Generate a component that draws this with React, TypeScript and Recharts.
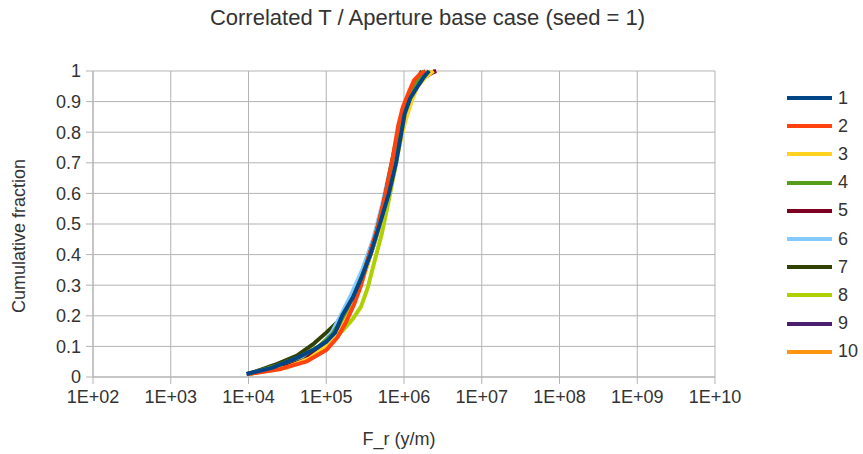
import React from "react";
import { LineChart, Line, XAxis, YAxis, CartesianGrid } from "recharts";

type Pt = { x: number; y: number };

// F_r (y/m) vs cumulative fraction, one list per realisation
const s1: [number, number][] = [
  [9.4e3, 0.01], [2.0e4, 0.03], [4.0e4, 0.06], [7.0e4, 0.09], [1.0e5, 0.115], [1.3e5, 0.145],
  [1.6e5, 0.2], [2.2e5, 0.26], [2.9e5, 0.33], [3.7e5, 0.4], [4.9e5, 0.5], [6.4e5, 0.6],
  [7.9e5, 0.7], [9.3e5, 0.8], [1.02e6, 0.86], [1.2e6, 0.91], [1.5e6, 0.95], [1.8e6, 0.98], [2.1e6, 1.0],
];
const s2: [number, number][] = [
  [1.0e4, 0.01], [2.5e4, 0.025], [5.5e4, 0.05], [1.0e5, 0.088], [1.4e5, 0.13], [1.8e5, 0.18],
  [2.3e5, 0.24], [2.8e5, 0.3], [3.4e5, 0.38], [4.5e5, 0.48], [5.8e5, 0.6], [7.2e5, 0.72],
  [8.4e5, 0.82], [9.6e5, 0.88], [1.15e6, 0.93], [1.35e6, 0.97], [1.6e6, 0.99], [1.9e6, 1.0],
];
const s3: [number, number][] = [
  [1.0e4, 0.01], [3.0e4, 0.03], [6.0e4, 0.06], [1.0e5, 0.1], [1.5e5, 0.15], [2.1e5, 0.22],
  [2.8e5, 0.3], [3.7e5, 0.4], [5.0e5, 0.5], [6.3e5, 0.6], [7.8e5, 0.7], [9.2e5, 0.78],
  [1.05e6, 0.84], [1.25e6, 0.9], [1.5e6, 0.95], [1.9e6, 0.98], [2.4e6, 1.0],
];
const s4: [number, number][] = [
  [1.0e4, 0.01], [2.2e4, 0.035], [4.5e4, 0.065], [8.0e4, 0.1], [1.2e5, 0.14], [1.7e5, 0.2],
  [2.3e5, 0.27], [3.1e5, 0.35], [4.2e5, 0.45], [5.4e5, 0.56], [6.7e5, 0.68], [8.2e5, 0.79],
  [9.6e5, 0.87], [1.15e6, 0.92], [1.4e6, 0.96], [1.8e6, 1.0],
];
const s5: [number, number][] = [
  [9.8e3, 0.01], [2.6e4, 0.03], [5.2e4, 0.055], [9.0e4, 0.1], [1.3e5, 0.14], [1.8e5, 0.2],
  [2.4e5, 0.27], [3.2e5, 0.36], [4.4e5, 0.47], [5.6e5, 0.58], [7.0e5, 0.7], [8.5e5, 0.8],
  [9.9e5, 0.87], [1.2e6, 0.92], [1.5e6, 0.96], [2.0e6, 0.99], [2.6e6, 1.0],
];
const s6: [number, number][] = [
  [1.0e4, 0.01], [2.4e4, 0.03], [5.0e4, 0.06], [8.5e4, 0.1], [1.2e5, 0.15], [1.6e5, 0.21],
  [2.1e5, 0.27], [2.9e5, 0.35], [4.0e5, 0.45], [5.2e5, 0.56], [6.5e5, 0.67], [8.0e5, 0.77],
  [9.5e5, 0.86], [1.15e6, 0.92], [1.4e6, 0.96], [1.8e6, 1.0],
];
const s7: [number, number][] = [
  [1.0e4, 0.01], [2.2e4, 0.04], [4.2e4, 0.07], [7.0e4, 0.11], [1.0e5, 0.145], [1.4e5, 0.18],
  [1.9e5, 0.23], [2.5e5, 0.3], [3.4e5, 0.39], [4.6e5, 0.49], [5.9e5, 0.6], [7.3e5, 0.71],
  [8.5e5, 0.8], [9.4e5, 0.86], [1.08e6, 0.91], [1.3e6, 0.95], [1.7e6, 1.0],
];
const s8: [number, number][] = [
  [1.0e4, 0.01], [2.8e4, 0.03], [6.0e4, 0.06], [1.0e5, 0.1], [1.6e5, 0.15], [2.2e5, 0.19],
  [2.8e5, 0.23], [3.4e5, 0.29], [4.1e5, 0.37], [5.2e5, 0.47], [6.4e5, 0.58], [7.8e5, 0.69],
  [9.2e5, 0.79], [1.06e6, 0.86], [1.28e6, 0.92], [1.6e6, 0.97], [2.1e6, 1.0],
];
const s9: [number, number][] = [
  [9.6e3, 0.01], [2.3e4, 0.03], [4.8e4, 0.06], [8.5e4, 0.1], [1.25e5, 0.14], [1.7e5, 0.19],
  [2.3e5, 0.26], [3.1e5, 0.34], [4.3e5, 0.45], [5.6e5, 0.57], [7.1e5, 0.69], [8.7e5, 0.8],
  [1.0e6, 0.87], [1.22e6, 0.93], [1.6e6, 0.97], [2.5e6, 1.0],
];
const s10: [number, number][] = [
  [1.0e4, 0.01], [2.7e4, 0.03], [5.8e4, 0.06], [1.0e5, 0.1], [1.5e5, 0.15], [2.0e5, 0.21],
  [2.6e5, 0.28], [3.4e5, 0.37], [4.6e5, 0.48], [5.9e5, 0.6], [7.3e5, 0.71], [8.8e5, 0.81],
  [1.02e6, 0.88], [1.22e6, 0.93], [1.6e6, 0.97], [2.2e6, 1.0],
];

const seriesNames = ["1", "2", "3", "4", "5", "6", "7", "8", "9", "10"];
const seriesData = [s1, s2, s3, s4, s5, s6, s7, s8, s9, s10];
const colors = ["#004586", "#ff420e", "#ffd320", "#579d1c", "#7e0021", "#83caff", "#314004", "#aecf00", "#4b1f6f", "#ff950e"];

const xTicks = [1e2, 1e3, 1e4, 1e5, 1e6, 1e7, 1e8, 1e9, 1e10];
const yTicks = [0, 0.1, 0.2, 0.3, 0.4, 0.5, 0.6, 0.7, 0.8, 0.9, 1];

const FONT = "'Liberation Sans', Arial, sans-serif";
const gray = "#b3b3b3";

const fmtX = (v: number) => "1E+" + String(Math.round(Math.log10(v))).padStart(2, "0");

export default function App() {
  const lines = seriesData.map((s) => s.map(([x, y]): Pt => ({ x, y })));
  // draw series 10 first so series 1 ends up on top
  const order = seriesNames.map((_, i) => i).reverse();

  return (
    <div style={{ position: "absolute", left: 0, top: 0, width: 863, height: 454, background: "#fff", fontFamily: FONT, color: "#333" }}>
      <LineChart width={863} height={454} margin={{ top: 71, right: 148, bottom: 47, left: 0 }}>
        <CartesianGrid stroke={gray} strokeWidth={1} />
        <XAxis
          dataKey="x" type="number" scale="log" domain={[1e2, 1e10]} ticks={xTicks} allowDataOverflow
          tickFormatter={fmtX} height={30} tickSize={7} tickMargin={6}
          tick={{ fontSize: 18, fill: "#333", fontFamily: FONT }}
          stroke={gray} tickLine={{ stroke: gray }} axisLine={{ stroke: gray }}
        />
        <YAxis
          dataKey="y" type="number" domain={[0, 1]} ticks={yTicks} width={93} tickSize={7} tickMargin={5}
          tick={{ fontSize: 18, fill: "#333", fontFamily: FONT }}
          stroke={gray} tickLine={{ stroke: gray }} axisLine={{ stroke: gray }}
        />
        {order.map((i) => (
          <Line
            key={seriesNames[i]} data={lines[i]} dataKey="y" name={seriesNames[i]} type="linear"
            stroke={colors[i]} strokeWidth={4} dot={false} strokeLinejoin="round" isAnimationActive={false}
          />
        ))}
      </LineChart>

      <div style={{ position: "absolute", left: 0, width: 855, top: 5, textAlign: "center", fontSize: 22 }}>
        Correlated T / Aperture base case (seed = 1)
      </div>
      <div style={{ position: "absolute", left: 19, top: 236, transform: "translate(-50%, -50%) rotate(-90deg)", whiteSpace: "nowrap", fontSize: 18 }}>
        Cumulative fraction
      </div>
      <div style={{ position: "absolute", left: 399, top: 439, transform: "translate(-50%, -50%)", whiteSpace: "nowrap", fontSize: 18 }}>
        F_r (y/m)
      </div>

      {seriesNames.map((n, i) => (
        <div key={n} style={{ position: "absolute", left: 787, top: 98 + i * 28.2 - 11, height: 22, display: "flex", alignItems: "center" }}>
          <div style={{ width: 45, height: 4, background: colors[i] }} />
          <span style={{ marginLeft: 6, fontSize: 18 }}>{n}</span>
        </div>
      ))}
    </div>
  );
}
